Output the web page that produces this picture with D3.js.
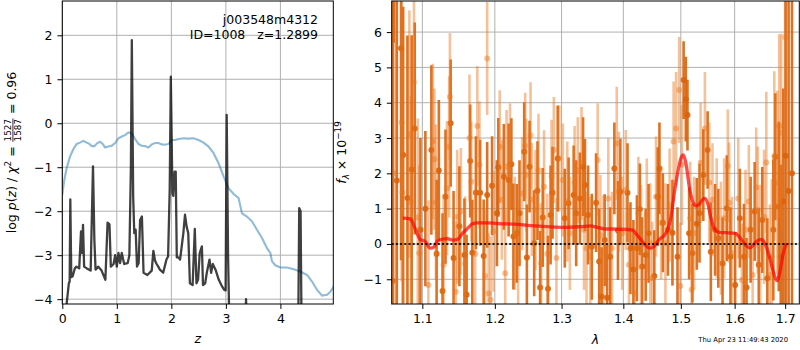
<!DOCTYPE html>
<html>
<head>
<meta charset="utf-8">
<script src="https://cdn.jsdelivr.net/npm/d3@7"></script>
<style>
  body { margin: 0; background: #fff; }
  svg { font-family: "DejaVu Sans", sans-serif; }
  .tick text { font-size: 12.5px; fill: #000; }
  .tick line { stroke: #000; stroke-width: 1; }
</style>
</head>
<body>
<svg id="chart" width="800" height="350"></svg>
<script>
// ---- data: left panel, redshift fit ----
var zTicks = [0, 1, 2, 3, 4];
var logpTicks = [-4, -3, -2, -1, 0, 1, 2];

// [z, log p(z)]
var pzCurve = [
  [0.03,-5],[0.08,-4.1],[0.12,-3.64],[0.135,-3.6],[0.147,-1.73],[0.165,-3.5],[0.19,-3.48],
  [0.23,-3.3],[0.26,-3.26],[0.31,-3.3],[0.343,-2.46],[0.36,-2.95],[0.38,-2.31],[0.40,-3.26],
  [0.45,-3.3],[0.52,-3.35],[0.563,-0.98],[0.588,-2.65],[0.61,-3.33],[0.66,-3.26],[0.72,-3.35],
  [0.79,-3.56],[0.83,-2.26],[0.865,-2.3],[0.89,-3.26],[0.94,-3.2],[0.97,-3.0],[1.0,-3.26],
  [1.03,-2.95],[1.06,-3.18],[1.09,-2.95],[1.135,-3.2],[1.2,-3.18],[1.23,-3.0],[1.258,-1.0],
  [1.275,1.89],[1.30,-1.67],[1.32,-2.5],[1.345,-2.42],[1.37,-3.26],[1.40,-3.18],[1.427,-2.2],
  [1.46,-2.12],[1.49,-3.4],[1.56,-3.45],[1.64,-3.35],[1.67,-2.9],[1.70,-3.12],[1.73,-3.2],
  [1.76,-3.26],[1.79,-3.33],[1.85,-3.4],[1.91,-3.1],[1.94,-3.03],[1.97,-1.5],[1.99,1.06],
  [2.02,-1.6],[2.035,-1.65],[2.06,-1.1],[2.08,-1.1],[2.10,-3.05],[2.13,-3.05],[2.16,-3.1],
  [2.22,-2.5],[2.25,-2.08],[2.28,-2.35],[2.31,-2.5],[2.34,-3.64],[2.39,-3.68],[2.43,-2.4],
  [2.46,-3.64],[2.49,-3.56],[2.52,-2.95],[2.56,-2.8],[2.58,-3.68],[2.62,-3.64],[2.65,-3.4],
  [2.70,-3.1],[2.73,-3.4],[2.76,-3.2],[2.81,-3.33],[2.87,-3.56],[2.93,-3.71],[2.97,-3.79],
  [2.995,-3.8],[3.015,0.19],[3.04,-3.0],[3.07,-5],[3.35,-5],[3.37,-4.0],[3.39,-5],
  [4.30,-5],[4.33,-4.2],[4.345,-1.93],[4.37,-2.0],[4.39,-5],[4.97,-5]
];

// [z, scaled chi2]
var chiCurve = [
  [0,-1.63],[0.031,-1.33],[0.080,-1.02],[0.141,-0.76],[0.202,-0.59],[0.263,-0.47],[0.325,-0.44],
  [0.386,-0.40],[0.447,-0.44],[0.496,-0.47],[0.539,-0.52],[0.588,-0.52],[0.643,-0.45],[0.692,-0.42],
  [0.741,-0.47],[0.784,-0.55],[0.845,-0.53],[0.906,-0.51],[0.968,-0.45],[1.029,-0.34],[1.090,-0.30],
  [1.151,-0.27],[1.212,-0.21],[1.274,-0.23],[1.335,-0.36],[1.396,-0.47],[1.457,-0.51],[1.519,-0.52],
  [1.580,-0.55],[1.641,-0.48],[1.702,-0.45],[1.764,-0.45],[1.825,-0.48],[1.886,-0.49],[1.947,-0.47],
  [2.009,-0.38],[2.070,-0.38],[2.131,-0.36],[2.223,-0.34],[2.315,-0.35],[2.407,-0.34],[2.498,-0.38],
  [2.590,-0.44],[2.682,-0.53],[2.774,-0.68],[2.866,-0.91],[2.958,-1.21],[3.050,-1.48],[3.142,-1.61],
  [3.233,-1.70],[3.295,-2.05],[3.386,-2.12],[3.478,-2.23],[3.570,-2.42],[3.662,-2.61],[3.754,-2.84],
  [3.815,-2.95],[3.846,-3.14],[3.907,-3.23],[3.999,-3.28],[4.121,-3.28],[4.244,-3.32],[4.366,-3.37],
  [4.489,-3.45],[4.580,-3.60],[4.672,-3.79],[4.764,-3.92],[4.856,-3.90],[4.917,-3.83],[4.979,-3.71]
];

// ---- data: right panel, spectrum ----
var lamTicks = [1.1, 1.2, 1.3, 1.4, 1.5, 1.6, 1.7];
var fluxTicks = [-1, 0, 1, 2, 3, 4, 5, 6];

// [lambda, flux, error] first orientation (dark)
var specDark = [
  [1.0615,-1.05,8.5],[1.0630,9.5,3.8],[1.0668,1.8,7.5],[1.0723,5.54,6.0],[1.0750,2.52,4.2],
  [1.0805,1.3,4.6],[1.0860,2.11,3.8],[1.0900,3.27,3.0],[1.0975,0.4,2.6],[1.1040,1.0,2.2],
  [1.1120,2.66,2.4],[1.1190,-0.28,2.1],[1.1220,2.08,2.0],[1.1270,-1.33,2.2],[1.1310,1.34,1.9],
  [1.1380,3.42,1.8],[1.1420,-0.40,1.9],[1.1500,0.50,1.7],[1.1570,-0.31,1.6],[1.1600,-1.44,1.7],
  [1.1650,2.35,1.6],[1.1680,-0.25,1.5],[1.1730,1.45,1.6],[1.1790,1.45,1.5],[1.1840,-0.34,1.6],
  [1.1890,1.39,1.5],[1.1960,1.65,1.4],[1.2030,0.87,1.5],[1.2050,2.17,1.4],[1.2130,1.90,1.5],
  [1.2200,1.81,1.6],[1.2240,2.26,1.3],[1.2270,0.21,1.5],[1.2320,0.30,1.4],[1.2360,0.87,1.5],
  [1.2430,2.61,1.4],[1.2470,-0.38,1.5],[1.2510,2.19,1.3],[1.2580,0.02,1.5],[1.2630,1.51,1.4],
  [1.2670,-1.23,1.6],[1.2710,0.75,1.4],[1.2790,-1.27,1.5],[1.2830,0.82,1.4],[1.2860,1.45,1.3],
  [1.2940,2.42,1.5],[1.3050,0.73,1.4],[1.3110,1.15,1.3],[1.3190,1.39,1.4],[1.3230,0.87,1.5],
  [1.3290,1.29,1.3],[1.3340,2.19,1.4],[1.3370,1.67,1.3],[1.3420,0.82,1.4],[1.3480,-0.08,1.5],
  [1.3550,1.17,1.4],[1.3600,-0.50,1.5],[1.3640,-1.49,1.4],[1.3690,0.11,1.3],[1.3730,-1.52,1.5],
  [1.3780,-0.36,1.4],[1.3850,2.14,1.3],[1.3910,0.38,1.4],[1.3950,1.48,1.5],[1.4070,1.45,1.4],
  [1.4120,-0.12,1.3],[1.4170,-0.72,1.4],[1.4230,-0.12,1.5],[1.4280,0.98,1.3],[1.4320,-0.64,1.4],
  [1.4380,-0.31,1.3],[1.4430,0.30,1.4],[1.4530,-0.91,1.3],[1.4590,1.34,1.4],[1.4620,2.14,1.3],
  [1.4680,0.60,1.4],[1.4770,0.40,1.3],[1.4850,0.32,1.5],[1.4940,-0.36,1.4],[1.5050,4.64,1.1],
  [1.5090,4.10,1.2],[1.5120,3.65,1.0],[1.5150,0.30,1.3],[1.5210,-0.26,1.4],[1.5290,0.57,1.3],
  [1.5340,0.87,1.4],[1.5410,1.95,1.3],[1.5490,2.66,1.1],[1.5550,-0.22,1.4],[1.5630,0.40,1.3],
  [1.5690,0.16,1.4],[1.5770,-0.55,1.3],[1.5850,1.01,1.5],[1.5920,-0.36,1.4],[1.6010,-1.16,1.5],
  [1.6100,0.73,1.4],[1.6180,-0.36,1.5],[1.6230,-1.23,1.4],[1.6310,0.40,1.5],[1.6390,0.92,1.4],
  [1.6470,-0.59,1.6],[1.6540,0.68,1.5],[1.6640,-0.97,1.7],[1.6760,0.40,2.0],[1.6800,2.47,1.8],
  [1.6870,1.06,2.4],[1.6910,-0.36,2.6],[1.6960,1.2,3.2],[1.7010,2.5,8.0],[1.7070,1.5,8.5],
  [1.7140,2.0,9.0]
];

// [lambda, flux, error] second orientation (light)
var specLight = [
  [1.0640,2.0,7.0],[1.0730,3.44,4.5],[1.0740,1.46,3.8],[1.0830,3.11,3.5],[1.0850,1.19,3.0],
  [1.0890,4.58,2.6],[1.0940,0.75,2.8],[1.0960,-0.26,2.5],[1.1080,-1.16,2.4],[1.1140,2.90,2.2],
  [1.1160,2.40,2.0],[1.1180,1.18,2.2],[1.1285,-0.59,2.0],[1.1330,1.58,1.9],[1.1360,2.75,2.0],
  [1.1370,4.17,1.8],[1.1450,-1.35,2.0],[1.1470,0.77,1.9],[1.1520,0.92,1.8],[1.1580,-0.55,1.9],
  [1.1640,3.00,1.8],[1.1665,1.76,1.7],[1.1720,-0.28,1.8],[1.1750,3.34,1.7],[1.1780,2.24,1.8],
  [1.1860,-0.91,1.9],[1.1890,5.25,1.6],[1.1910,-1.40,1.7],[1.1940,-1.58,1.8],[1.1980,0.35,1.7],
  [1.2070,2.75,1.6],[1.2100,1.25,1.7],[1.2150,-0.83,1.8],[1.2170,2.19,1.6],[1.2220,2.28,1.7],
  [1.2290,0.30,1.6],[1.2340,-0.50,1.7],[1.2400,1.43,1.6],[1.2445,2.78,1.5],[1.2460,1.95,1.6],
  [1.2525,3.08,1.5],[1.2545,1.26,1.6],[1.2600,0.96,1.7],[1.2645,2.09,1.6],[1.2685,-0.55,1.7],
  [1.2730,1.62,1.6],[1.2780,-0.28,1.7],[1.2845,1.92,1.6],[1.2880,2.66,1.5],[1.2920,-0.40,1.7],
  [1.2965,2.42,1.5],[1.3020,1.81,1.6],[1.3090,1.20,1.7],[1.3130,0.30,1.6],[1.3205,1.74,1.6],
  [1.3255,2.09,1.5],[1.3315,2.28,1.6],[1.3355,0.40,1.7],[1.3395,-0.12,1.6],[1.3455,-0.36,1.7],
  [1.3575,2.38,1.6],[1.3620,0.25,1.7],[1.3670,-0.22,1.6],[1.3750,1.29,1.7],[1.3810,-0.12,1.6],
  [1.3890,2.85,1.6],[1.3925,1.48,1.7],[1.3980,0.30,1.6],[1.4040,1.53,1.7],[1.4095,-0.59,1.6],
  [1.4195,-1.40,1.7],[1.4255,0.87,1.6],[1.4300,-0.03,1.7],[1.4400,0.82,1.6],[1.4460,0.02,1.7],
  [1.4495,-0.97,1.6],[1.4560,1.34,1.7],[1.4650,0.60,1.6],[1.4725,0.02,1.7],[1.4800,1.10,1.6],
  [1.4870,2.90,1.7],[1.4915,3.27,1.6],[1.4970,4.36,1.5],[1.4990,-1.19,1.8],[1.5020,2.24,1.7],
  [1.5170,0.73,1.6],[1.5195,-1.30,1.7],[1.5240,0.30,1.6],[1.5360,2.30,1.7],[1.5440,3.27,1.6],
  [1.5520,1.74,1.7],[1.5580,1.25,1.6],[1.5660,0.73,1.7],[1.5740,0.16,1.6],[1.5800,0.73,1.7],
  [1.5870,2.21,1.6],[1.5895,1.17,1.7],[1.5950,-0.26,1.6],[1.6070,1.29,1.7],[1.6140,-1.02,1.6],
  [1.6210,0.40,1.7],[1.6275,1.20,1.6],[1.6350,-0.88,1.8],[1.6420,1.60,1.7],[1.6450,0.96,1.8],
  [1.6500,-0.12,1.8],[1.6575,0.77,1.9],[1.6620,2.31,2.0],[1.6690,-0.88,2.0],[1.6730,-0.36,2.2],
  [1.6780,2.49,2.4],[1.6840,1.74,2.6],[1.6880,3.34,2.6],[1.6920,3.15,2.8],[1.7000,5.85,3.2]
];

// [lambda, model flux]
var modelCurve = [
  [1.0745,0.73],[1.084,0.71],[1.0905,0.44],[1.097,0.13],[1.1037,0.07],[1.1106,-0.12],[1.1152,-0.09],
  [1.1198,0.07],[1.1267,0.14],[1.1337,0.15],[1.1406,0.11],[1.1475,0.13],[1.1544,0.30],[1.1613,0.44],
  [1.1682,0.57],[1.1751,0.60],[1.189,0.60],[1.203,0.58],[1.2279,0.56],[1.2528,0.52],[1.2777,0.49],
  [1.3027,0.47],[1.3298,0.49],[1.346,0.51],[1.3568,0.47],[1.3676,0.43],[1.3892,0.42],[1.4147,0.40],
  [1.4235,0.25],[1.4323,0.07],[1.4412,-0.09],[1.447,-0.12],[1.4529,-0.06],[1.4617,0.13],[1.4706,0.25],
  [1.4765,0.40],[1.4824,0.77],[1.4882,1.43],[1.4941,2.00],[1.5,2.42],[1.5043,2.52],[1.5092,2.28],
  [1.5153,1.62],[1.5215,1.20],[1.5276,1.08],[1.5337,1.13],[1.5398,1.26],[1.5441,1.29],[1.549,1.15],
  [1.5552,0.73],[1.5613,0.44],[1.5705,0.33],[1.5828,0.32],[1.6013,0.30],[1.6112,0.16],[1.6211,-0.03],
  [1.6296,-0.11],[1.6362,-0.03],[1.6441,0.09],[1.652,0.13],[1.6605,-0.03],[1.6691,-0.41],[1.677,-0.83],
  [1.6836,-1.04],[1.6901,-0.74],[1.6954,-0.31],[1.702,0.02]
];

var objName = "j003548m4312";
var objInfo = "ID=1008   z=1.2899";
var stamp = "Thu Apr 23 11:49:43 2020";

// ---- layout ----
var svg = d3.select("#chart");
var pL = {left: 62.3, right: 333.3, top: 1, bottom: 304};
var pR = {left: 391.7, right: 799.3, top: 1, bottom: 304};
var tickLen = 4.9;

var xZ = d3.scaleLinear().domain([0, 4.97]).range([pL.left, pL.right]);
var yZ = d3.scaleLinear().domain([-4.11, 2.78]).range([pL.bottom, pL.top]);
var xL = d3.scaleLog().domain([1.0603, 1.7291]).range([pR.left, pR.right]);
var yF = d3.scaleLinear().domain([-1.70, 6.88]).range([pR.bottom, pR.top]);

function addClip(id, p) {
  svg.append("clipPath").attr("id", id)
    .append("rect")
    .attr("x", p.left).attr("y", p.top)
    .attr("width", p.right - p.left).attr("height", p.bottom - p.top);
}
addClip("clipL", pL);
addClip("clipR", pR);

function drawGrid(p, xs, ys, xt, yt) {
  var g = svg.append("g").attr("stroke", "#b0b0b0").attr("stroke-width", 1);
  g.selectAll("line.gx").data(xt).enter().append("line")
    .attr("x1", d => xs(d)).attr("x2", d => xs(d))
    .attr("y1", p.top).attr("y2", p.bottom);
  g.selectAll("line.gy").data(yt).enter().append("line")
    .attr("x1", p.left).attr("x2", p.right)
    .attr("y1", d => ys(d)).attr("y2", d => ys(d));
}

function drawAxes(p, xs, ys, xt, yt, xf, yf) {
  var ax = svg.append("g")
    .attr("transform", `translate(0, ${p.bottom})`)
    .call(d3.axisBottom(xs).tickValues(xt).tickFormat(xf).tickSize(tickLen).tickPadding(tickLen));
  var ay = svg.append("g")
    .attr("transform", `translate(${p.left}, 0)`)
    .call(d3.axisLeft(ys).tickValues(yt).tickFormat(yf).tickSize(tickLen).tickPadding(tickLen));
  [ax, ay].forEach(function(a) {
    a.select(".domain").remove();
    a.attr("font-family", null).attr("font-size", null);
  });
  svg.append("rect")
    .attr("x", p.left).attr("y", p.top)
    .attr("width", p.right - p.left).attr("height", p.bottom - p.top)
    .attr("fill", "none").attr("stroke", "#000").attr("stroke-width", 1);
}

// ---- left panel ----
drawGrid(pL, xZ, yZ, zTicks, logpTicks);

var lineZ = d3.line().x(d => xZ(d[0])).y(d => yZ(d[1]));
var gL = svg.append("g").attr("clip-path", "url(#clipL)");
gL.append("path").datum(chiCurve)
  .attr("d", lineZ)
  .attr("fill", "none").attr("stroke", "#1f77b4").attr("stroke-opacity", 0.5)
  .attr("stroke-width", 2.1);
gL.append("path").datum(pzCurve)
  .attr("d", lineZ)
  .attr("fill", "none").attr("stroke", "#000").attr("stroke-opacity", 0.75)
  .attr("stroke-width", 2.3).attr("stroke-linejoin", "round");

drawAxes(pL, xZ, yZ, zTicks, logpTicks, d3.format("d"), d3.format("d"));

svg.append("text")
  .attr("x", 318).attr("y", 24).attr("text-anchor", "end")
  .attr("font-size", 12.5).text(objName);
svg.append("text")
  .attr("x", 318).attr("y", 39).attr("text-anchor", "end")
  .attr("font-size", 12.5).style("white-space", "pre").text(objInfo);

svg.append("text")
  .attr("x", (pL.left + pL.right) / 2).attr("y", 343)
  .attr("text-anchor", "middle").attr("font-size", 12.5)
  .attr("font-style", "italic").text("z");

// y label with stacked fraction
var gYl = svg.append("g")
  .attr("transform", `translate(15.5, ${(pL.top + pL.bottom) / 2}) rotate(-90)`);
var gYin = gYl.append("g");
var t1 = gYin.append("text").attr("font-size", 12.5);
t1.append("tspan").text("log ");
t1.append("tspan").attr("font-style", "italic").text("p");
t1.append("tspan").text("(");
t1.append("tspan").attr("font-style", "italic").text("z");
t1.append("tspan").text(") / ");
t1.append("tspan").attr("font-style", "italic").text("\u03c7");
t1.append("tspan").attr("font-size", 8.8).attr("dy", -5).text("2");
t1.append("tspan").attr("dy", 5).style("white-space", "pre").text(" = ");
var w1 = t1.node().getComputedTextLength();
var num = gYin.append("text").attr("font-size", 8.8).attr("x", w1 + 1).attr("y", -4.2).text("1527");
var den = gYin.append("text").attr("font-size", 8.8).attr("x", w1 + 1).attr("y", 5.6).text("1587");
var wf = Math.max(num.node().getComputedTextLength(), den.node().getComputedTextLength());
gYin.append("line")
  .attr("x1", w1 + 0.5).attr("x2", w1 + wf + 1.5)
  .attr("y1", -2.6).attr("y2", -2.6)
  .attr("stroke", "#000").attr("stroke-width", 0.8);
var t3 = gYin.append("text").attr("font-size", 12.5)
  .attr("x", w1 + wf + 2).style("white-space", "pre").text(" = 0.96");
var wTot = w1 + wf + 2 + t3.node().getComputedTextLength();
gYin.attr("transform", `translate(${-wTot / 2}, 0)`);

// ---- right panel ----
drawGrid(pR, xL, yF, lamTicks, fluxTicks);

var gR = svg.append("g").attr("clip-path", "url(#clipR)");
var darkCol = "#d9630c";
var lightCol = "#e8761c";

gR.selectAll("line.ed").data(specDark).enter().append("line")
  .attr("x1", d => xL(d[0])).attr("x2", d => xL(d[0]))
  .attr("y1", d => yF(d[1] - d[2])).attr("y2", d => yF(d[1] + d[2]))
  .attr("stroke", darkCol).attr("stroke-opacity", 0.9).attr("stroke-width", 2.6);
gR.selectAll("circle.pd").data(specDark).enter().append("circle")
  .attr("cx", d => xL(d[0])).attr("cy", d => yF(d[1])).attr("r", 3)
  .attr("fill", darkCol).attr("fill-opacity", 0.9);

gR.selectAll("line.el").data(specLight).enter().append("line")
  .attr("x1", d => xL(d[0])).attr("x2", d => xL(d[0]))
  .attr("y1", d => yF(d[1] - d[2])).attr("y2", d => yF(d[1] + d[2]))
  .attr("stroke", lightCol).attr("stroke-opacity", 0.45).attr("stroke-width", 2.6);
gR.selectAll("circle.pl").data(specLight).enter().append("circle")
  .attr("cx", d => xL(d[0])).attr("cy", d => yF(d[1])).attr("r", 3)
  .attr("fill", lightCol).attr("fill-opacity", 0.45);

gR.append("path").datum(modelCurve)
  .attr("d", d3.line().curve(d3.curveMonotoneX).x(d => xL(d[0])).y(d => yF(d[1])))
  .attr("fill", "none").attr("stroke", "red").attr("stroke-opacity", 0.7)
  .attr("stroke-width", 3.3).attr("stroke-linejoin", "round");

gR.append("line")
  .attr("x1", pR.left).attr("x2", pR.right)
  .attr("y1", yF(0)).attr("y2", yF(0))
  .attr("stroke", "#000").attr("stroke-opacity", 0.85)
  .attr("stroke-width", 2).attr("stroke-dasharray", "2,2.2");

drawAxes(pR, xL, yF, lamTicks, fluxTicks, d3.format(".1f"), d3.format("d"));

svg.append("text")
  .attr("x", (pR.left + pR.right) / 2).attr("y", 344)
  .attr("text-anchor", "middle").attr("font-size", 12.5)
  .attr("font-style", "italic").text("\u03bb");

var gFl = svg.append("g")
  .attr("transform", `translate(346, ${(pR.top + pR.bottom) / 2}) rotate(-90)`);
var tf = gFl.append("text").attr("font-size", 12.5).attr("text-anchor", "middle");
tf.append("tspan").attr("font-style", "italic").text("f");
tf.append("tspan").attr("font-style", "italic").attr("font-size", 8.8).attr("dy", 3).text("\u03bb");
tf.append("tspan").attr("dy", -3).style("white-space", "pre").text(" \u00d7 10");
tf.append("tspan").attr("font-size", 8.8).attr("dy", -5.5).text("\u221219");

svg.append("text")
  .attr("x", 788).attr("y", 342).attr("text-anchor", "end")
  .attr("font-size", 6.8).text(stamp);
</script>
</body>
</html>
